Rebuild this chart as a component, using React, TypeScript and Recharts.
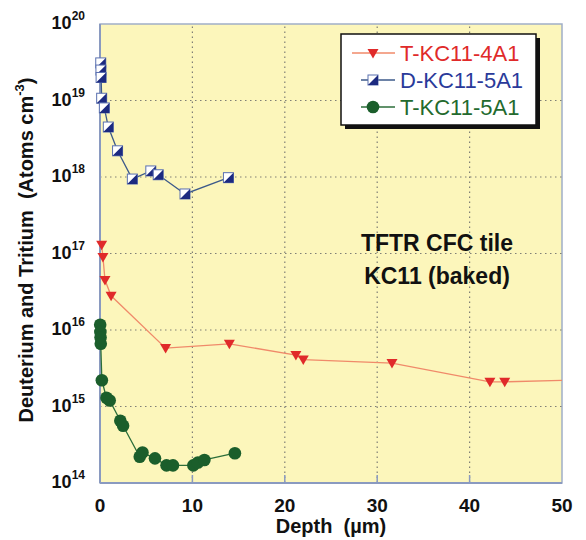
import React from "react";
import {
  ScatterChart,
  Scatter,
  XAxis,
  YAxis,
  CartesianGrid,
  ReferenceArea,
  ReferenceLine,
} from "recharts";

// depth in µm, concentration in atoms/cm3
const t4a1Depth = [0.18, 0.32, 0.54, 1.2, 7.1, 14.0, 21.2, 22.0, 31.6, 42.2, 43.8, 50];
const t4a1Conc = [1.3e17, 9e16, 4.5e16, 2.8e16, 5.8e15, 6.6e15, 4.7e15, 4.1e15, 3.7e15, 2.1e15, 2.1e15, 2.2e15];

const d5a1Depth = [0.08, 0.1, 0.12, 0.18, 0.47, 0.9, 1.9, 3.5, 5.5, 6.3, 9.2, 13.9];
const d5a1Conc = [3.1e19, 2.5e19, 2.0e19, 1.07e19, 8e18, 4.5e18, 2.2e18, 9.4e17, 1.2e18, 1.07e18, 6e17, 9.8e17];

const t5a1Depth = [0.02, 0.04, 0.06, 0.08, 0.2, 0.7, 1.05, 2.2, 2.5, 4.3, 4.6, 5.95, 7.2, 7.9, 10.1, 10.6, 11.3, 14.6];
const t5a1Conc = [1.17e16, 9.4e15, 8e15, 6.6e15, 2.2e15, 1.3e15, 1.2e15, 6.5e14, 5.6e14, 2.2e14, 2.5e14, 2.1e14, 1.7e14, 1.7e14, 1.7e14, 1.85e14, 2.0e14, 2.45e14];

const xTicks = [0, 10, 20, 30, 40, 50];
const yTicks = [1e14, 1e15, 1e16, 1e17, 1e18, 1e19, 1e20];
const xGrid = [10, 20, 30, 40];
const yGrid = [1e15, 1e16, 1e17, 1e18, 1e19];

const zip = (xs: number[], ys: number[]) => xs.map((x, i) => ({ x, y: ys[i] }));

const FONT = "'Liberation Sans', Arial, Helvetica, sans-serif";

const RED = "#e02a2a";
const NAVY = "#1c2a80";
const GREEN = "#1b5e2b";

// the last red point sits on the frame edge where the line runs out; no marker there
const Tri = (p: any) => {
  const { cx, cy, payload } = p;
  if (cx == null || cy == null) return null;
  if (payload && payload.x >= 50) return null;
  return (
    <polygon
      points={`${cx - 5.5},${cy - 4} ${cx + 5.5},${cy - 4} ${cx},${cy + 5.5}`}
      fill={RED}
    />
  );
};

const Sq = (p: any) => {
  const { cx, cy } = p;
  if (cx == null || cy == null) return null;
  return (
    <g>
      <rect x={cx - 5} y={cy - 5} width={10} height={10} fill="#fff" stroke="#5a70b0" strokeWidth={1} />
      <polygon points={`${cx + 5},${cy - 5} ${cx + 5},${cy + 5} ${cx - 5},${cy + 5}`} fill={NAVY} />
    </g>
  );
};

const Dot = (p: any) => {
  const { cx, cy } = p;
  if (cx == null || cy == null) return null;
  return <circle cx={cx} cy={cy} r={6.3} fill={GREEN} />;
};

const XTick = (p: any) => {
  const { x, y, payload } = p;
  const v = payload.value;
  return (
    <g>
      {v > 0 && v < 50 && <line x1={x} x2={x} y1={y} y2={y - 8} stroke="#8a9ac0" strokeWidth={1.5} />}
      <text x={x} y={y + 29} textAnchor="middle" fontFamily={FONT} fontWeight="bold" fontSize={19} fill="#111">
        {v}
      </text>
    </g>
  );
};

const YTick = (p: any) => {
  const { x, y, payload } = p;
  const exp = Math.round(Math.log10(payload.value));
  return (
    <text x={x - 15} y={y + 5} textAnchor="end" fontFamily={FONT} fontWeight="bold" fontSize={18} fill="#111">
      10
      <tspan dy={-9} fontSize={12}>
        {exp}
      </tspan>
    </text>
  );
};

const legendRows = [
  { name: "T-KC11-4A1", color: RED, line: "#f08a6a", Mark: Tri },
  { name: "D-KC11-5A1", color: "#2a3a9a", line: "#3d5a8a", Mark: Sq },
  { name: "T-KC11-5A1", color: "#236a2e", line: "#2c6e3a", Mark: Dot },
];

export default function App() {
  return (
    <div style={{ position: "absolute", left: 0, top: 0, width: 586, height: 540, background: "#fff" }}>
      <ScatterChart width={586} height={540} margin={{ top: 24, right: 24, left: 0, bottom: 0 }}>
        <CartesianGrid fill="#fcf6bb" stroke="none" horizontal={false} vertical={false} />
        <XAxis
          dataKey="x"
          type="number"
          domain={[0, 50]}
          ticks={xTicks}
          height={57}
          tickSize={0}
          tickMargin={0}
          tick={<XTick />}
          axisLine={{ stroke: "#8a9ac0", strokeWidth: 2 }}
        />
        <YAxis
          dataKey="y"
          type="number"
          scale="log"
          domain={[1e14, 1e20]}
          ticks={yTicks}
          width={100}
          tickSize={0}
          tickMargin={0}
          tick={<YTick />}
          axisLine={{ stroke: "#8a9ac0", strokeWidth: 2 }}
        />
        {xGrid.map((v) => (
          <ReferenceLine key={"x" + v} x={v} stroke="#7f7f76" strokeWidth={1.2} strokeDasharray="1.5 3.5" />
        ))}
        {yGrid.map((v) => (
          <ReferenceLine key={"y" + v} y={v} stroke="#7f7f76" strokeWidth={1.2} strokeDasharray="1.5 3.5" />
        ))}
        <ReferenceArea x1={0} x2={50} y1={1e14} y2={1e20} fill="none" stroke="#a0aec8" strokeWidth={1.5} ifOverflow="visible" />
        <Scatter
          data={zip(t4a1Depth, t4a1Conc)}
          line={{ stroke: "#f08a6a", strokeWidth: 1.3 }}
          shape={<Tri />}
          isAnimationActive={false}
        />
        <Scatter
          data={zip(d5a1Depth, d5a1Conc)}
          line={{ stroke: "#3d5a8a", strokeWidth: 1.3 }}
          shape={<Sq />}
          isAnimationActive={false}
        />
        <Scatter
          data={zip(t5a1Depth, t5a1Conc)}
          line={{ stroke: "#2c6e3a", strokeWidth: 1.3 }}
          shape={<Dot />}
          isAnimationActive={false}
        />
      </ScatterChart>
      <svg width={586} height={540} style={{ position: "absolute", left: 0, top: 0, pointerEvents: "none" }}>
        <text
          transform="translate(33,250) rotate(-90)"
          textAnchor="middle"
          fontFamily={FONT}
          fontWeight="bold"
          fontSize={20}
          fill="#111"
        >
          {"Deuterium and Tritium\u00a0\u00a0(Atoms cm"}
          <tspan dy={-9} fontSize={13}>-3</tspan>
          <tspan dy={9}>)</tspan>
        </text>
        <text x={331} y={533} textAnchor="middle" fontFamily={FONT} fontWeight="bold" fontSize={20} fill="#111">
          {"Depth\u00a0\u00a0(µm)"}
        </text>
        <text x={437} y={251} textAnchor="middle" fontFamily={FONT} fontWeight="bold" fontSize={23} fill="#111">
          TFTR CFC tile
        </text>
        <text x={437} y={284} textAnchor="middle" fontFamily={FONT} fontWeight="bold" fontSize={23} fill="#111">
          KC11 (baked)
        </text>
        <rect x={345} y={38} width={195} height={91} fill="#111" />
        <rect x={341} y={34} width={195} height={91} fill="#fff" stroke="#111" strokeWidth={1.5} />
        {legendRows.map((r, i) => {
          const cy = 53 + i * 27;
          const M = r.Mark;
          return (
            <g key={r.name}>
              <line x1={i === 0 ? 352 : 361} x2={395} y1={cy} y2={cy} stroke={r.line} strokeWidth={1.3} />
              <M cx={373} cy={cy} />
              <text x={400} y={cy + 8} fontFamily={FONT} fontSize={22} fill={r.color}>
                {r.name}
              </text>
            </g>
          );
        })}
      </svg>
    </div>
  );
}
